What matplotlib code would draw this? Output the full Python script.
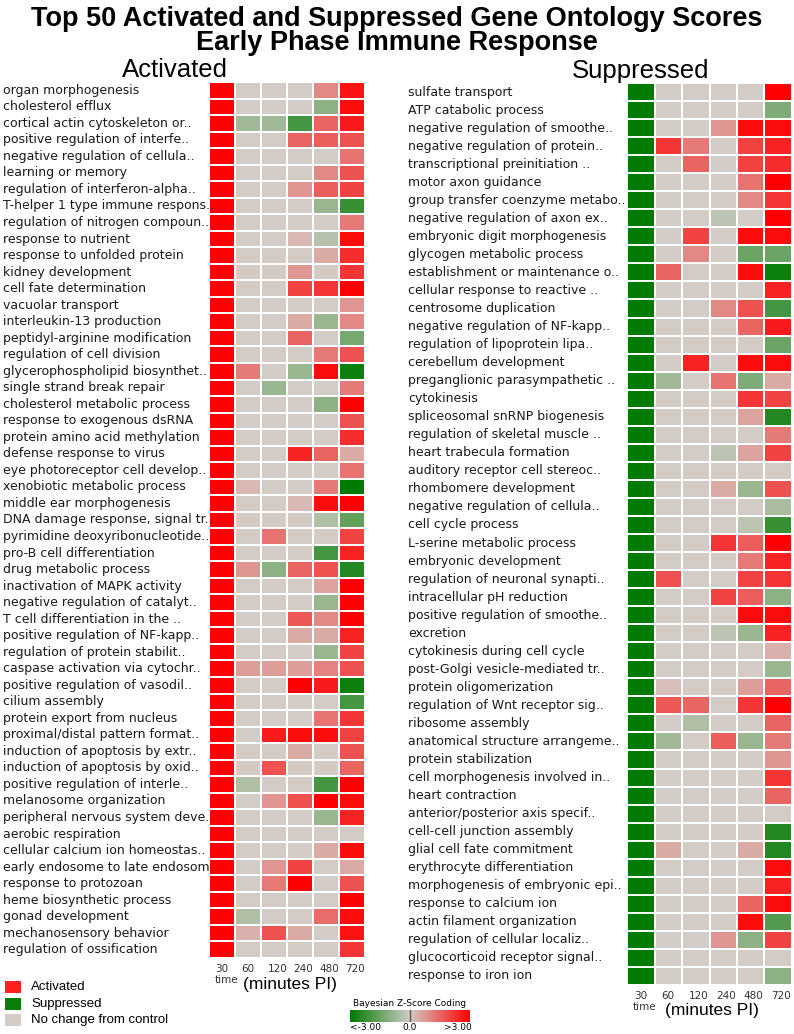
import numpy as np
import matplotlib
matplotlib.use("Agg")
import matplotlib.pyplot as plt
from matplotlib.colors import LinearSegmentedColormap
from matplotlib.patches import Rectangle
import matplotlib.transforms as mtransforms

times = ["30", "60", "120", "240", "480", "720"]

act_terms = [
    "organ morphogenesis", "cholesterol efflux", "cortical actin cytoskeleton or..",
    "positive regulation of interfe..", "negative regulation of cellula..", "learning or memory",
    "regulation of interferon-alpha..", "T-helper 1 type immune respons..",
    "regulation of nitrogen compoun..", "response to nutrient", "response to unfolded protein",
    "kidney development", "cell fate determination", "vacuolar transport",
    "interleukin-13 production", "peptidyl-arginine modification", "regulation of cell division",
    "glycerophospholipid biosynthet..", "single strand break repair",
    "cholesterol metabolic process", "response to exogenous dsRNA",
    "protein amino acid methylation", "defense response to virus",
    "eye photoreceptor cell develop..", "xenobiotic metabolic process",
    "middle ear morphogenesis", "DNA damage response, signal tr..",
    "pyrimidine deoxyribonucleotide..", "pro-B cell differentiation", "drug metabolic process",
    "inactivation of MAPK activity", "negative regulation of catalyt..",
    "T cell differentiation in the ..", "positive regulation of NF-kapp..",
    "regulation of protein stabilit..", "caspase activation via cytochr..",
    "positive regulation of vasodil..", "cilium assembly", "protein export from nucleus",
    "proximal/distal pattern format..", "induction of apoptosis by extr..",
    "induction of apoptosis by oxid..", "positive regulation of interle..",
    "melanosome organization", "peripheral nervous system deve..", "aerobic respiration",
    "cellular calcium ion homeostas..", "early endosome to late endosom..",
    "response to protozoan", "heme biosynthetic process", "gonad development",
    "mechanosensory behavior", "regulation of ossification",
]

# z-scores: 30, 60, 120, 240, 480, 720 min
act_30 = [3.0] * 53
act_60 = [0, 0, -0.7, 0, 0, 0, 0, 0, 0, 0, 0, 0, 0, 0, 0, 0, 0, 1.2, 0, 0, 0, 0, 0, 0, 0.3, 0, 0,
          0, 0, 0.8, 0, 0, 0, 0, 0, 0.7, 0, 0, 0, 0, 0, 0, -0.5, 0, 0, 0, 0, 0, 0, 0, -0.5, 0.4, 0]
act_120 = [0, 0, -0.7, 0, 0, 0, 0, 0, 0, 0, 0, 0, 0, 0, 0, 0, 0, 0, -0.8, 0, 0, 0, 0, 0, 0, 0, 0,
           1.3, 0, -1.0, 0, 0, 0, 0, 0, 0.7, 0, 0, 0, 2.6, 0, 1.8, 0, 0.8, 0, 0, 0, 0.8, 1.2, 0, 0, 1.8, 0]
act_240 = [0, 0, -2.0, 1.5, 0, 0, 0.8, 0, 0, 0.3, 0, 0.8, 2.0, 0, 0.5, 1.5, 0, -0.8, 0, 0, 0, 0, 2.5, 0, 0, 0.3, 0,
           0, 0, 1.5, 0, 0, 1.7, 0.5, 0, 0.7, 3.0, 0, 0, 2.8, 0.5, 0, 0, 1.8, 0, 0, 0, 2.0, 3.0, 0, 0, 0.5, 0]
act_480 = [1.0, -1.0, 1.5, 1.6, 0, 1.0, 1.6, -0.8, 0, -0.4, 0.5, 0, 2.2, 0, -0.8, 0, 1.2, 2.8, 0, -1.0, 0, 0, 1.5, 0, 1.2, 2.8, -0.5,
           0, -2.0, 1.8, 0.6, -0.8, 1.0, 0.5, -0.8, 1.1, 2.6, 0, 1.3, 2.8, 0, 0, -2.0, 3.0, -0.8, 0, 0.5, 0, 0, 0, 1.4, 0, 0]
act_720 = [2.7, 2.8, 2.6, 1.8, 1.3, 1.8, 2.0, -2.2, 1.2, 2.8, 2.3, 2.2, 3.0, 0.8, 1.0, -1.3, 1.8, -2.8, 1.2, 3.0, 1.8, 2.3, 0.5, 1.3, -3.0, 3.0, -1.6,
           2.0, 2.5, -2.5, 3.0, 3.0, 3.0, 2.5, 2.0, 1.8, -2.8, -2.0, 2.2, 2.0, 1.8, 1.5, 3.0, 2.8, 2.5, 0, 2.8, 0.5, 1.8, 3.0, 2.8, 2.7, 2.2]

sup_terms = [
    "sulfate transport", "ATP catabolic process", "negative regulation of smoothe..",
    "negative regulation of protein..", "transcriptional preinitiation ..", "motor axon guidance",
    "group transfer coenzyme metabo..", "negative regulation of axon ex..",
    "embryonic digit morphogenesis", "glycogen metabolic process",
    "establishment or maintenance o..", "cellular response to reactive ..",
    "centrosome duplication", "negative regulation of NF-kapp..",
    "regulation of lipoprotein lipa..", "cerebellum development",
    "preganglionic parasympathetic ..", "cytokinesis", "spliceosomal snRNP biogenesis",
    "regulation of skeletal muscle ..", "heart trabecula formation",
    "auditory receptor cell stereoc..", "rhombomere development",
    "negative regulation of cellula..", "cell cycle process", "L-serine metabolic process",
    "embryonic development", "regulation of neuronal synapti..", "intracellular pH reduction",
    "positive regulation of smoothe..", "excretion", "cytokinesis during cell cycle",
    "post-Golgi vesicle-mediated tr..", "protein oligomerization",
    "regulation of Wnt receptor sig..", "ribosome assembly",
    "anatomical structure arrangeme..", "protein stabilization",
    "cell morphogenesis involved in..", "heart contraction", "anterior/posterior axis specif..",
    "cell-cell junction assembly", "glial cell fate commitment", "erythrocyte differentiation",
    "morphogenesis of embryonic epi..", "response to calcium ion", "actin filament organization",
    "regulation of cellular localiz..", "glucocorticoid receptor signal..", "response to iron ion",
]

sup_30 = [-3.0] * 50
sup_60 = [0, 0, 0, 2.2, 0, 0, 0, 0, 0, 0, 1.5, 0, 0, 0, 0, 0, -0.7, 0, 0, 0, 0, 0, 0, 0, 0,
          0, 0, 1.8, 0, 0, 0, 0, 0, 0.2, 1.7, 0, -0.7, 0, 0, 0, 0, 0, 0.5, 0, 0, 0, 0, 0, 0, 0]
sup_120 = [0, 0, 0, 1.2, 1.5, 0, 0, 0, 2.0, 1.0, 0, 0, 0, 0, 0, 2.5, 0, 0, 0, 0, 0, 0, 0, 0, 0,
           0, 0, 0, 0, 0, 0, 0, 0, 0, 1.5, -0.5, 0, 0, 0, 0, 0, 0, 0, 0, 0, 0, 0, 0, 0, 0]
sup_240 = [0, 0, 0.8, 0, 0, 0, 0, -0.3, 0, 0, 0, 0, 1.0, 0, 0, 0, 1.3, 0, 0, 0, -0.3, 0, 0.5, 0, 0,
           2.2, 0, 0, 2.0, 0, -0.3, 0, 0, 0, 0, 0, 1.6, 0, 0, 0, 0, 0, 0, 0, 0, 0, 0, 0.8, 0, 0]
sup_480 = [0, 0, 2.8, 2.0, 2.0, 1.3, 1.0, 0, 2.8, -1.5, 2.8, 0, 1.8, 1.5, 0, 2.8, -1.2, 2.2, 0.6, 0, 0.6, 0, -0.8, 0, -0.3,
           1.6, 1.2, 2.0, 1.6, 2.8, -0.8, 0, 0, 0.7, 2.2, 0, -0.8, 0, 0, 0, 0, 0, 0.5, 0, 0, 1.5, 2.8, -1.0, 0, 0]
sup_720 = [3.0, -1.2, 2.8, 2.5, 2.3, 3.0, 2.2, 3.0, 2.8, -1.5, -2.8, 2.5, -2.0, 2.6, -1.5, 2.8, 0.5, 2.0, -2.5, 1.2, 2.0, 0, 1.8, -0.6, -2.2,
           3.0, 2.5, 2.2, -1.0, 2.8, 2.5, 0.4, -0.8, 1.5, 3.0, 1.5, 1.2, 0.8, 2.2, 1.5, 0, -2.5, -2.5, 2.8, 2.5, 2.8, -1.8, 2.0, 0, -1.0]

act = np.column_stack([act_30, act_60, act_120, act_240, act_480, act_720])
sup = np.column_stack([sup_30, sup_60, sup_120, sup_240, sup_480, sup_720])

cmap = LinearSegmentedColormap.from_list("zscore", ["#007a00", "#d3ccc7", "#ff0000"])

W, H = 794, 1034
fig = plt.figure(figsize=(W / 100, H / 100), dpi=100)

def fx(px):
    return px / W

def fy(py):
    return 1 - py / H

fig.text(0.5, fy(6), "Top 50 Activated and Suppressed Gene Ontology Scores\nEarly Phase Immune Response",
         ha="center", va="top", fontsize=19.5, fontweight="bold", family="Liberation Sans", linespacing=0.92)

def panel(data, terms, x0, x1, y0, y1, label_x, heading, heading_x):
    ax = fig.add_axes([fx(x0), fy(y1), fx(x1 - x0), (y1 - y0) / H])
    n = data.shape[0]
    ax.pcolormesh(np.arange(7), np.arange(n + 1), data, cmap=cmap, vmin=-3, vmax=3,
                  edgecolors="white", linewidth=1.3)
    ax.set_xlim(0, 6)
    ax.set_ylim(n, 0)
    ax.set_axis_off()
    tr = mtransforms.blended_transform_factory(fig.transFigure, ax.transData)
    for i, t in enumerate(terms):
        ax.text(fx(label_x), i + 0.5, t, transform=tr, ha="left", va="center",
                fontsize=9.0, family="DejaVu Sans", color="#1a1a1a")
    fig.text(fx(heading_x), fy(y0 - 12), heading, ha="center", va="center",
             fontsize=18.5, family="Liberation Sans")
    # time labels
    trx = mtransforms.blended_transform_factory(ax.transData, fig.transFigure)
    for j, t in enumerate(times):
        ax.text(j + 0.25, fy(y1 + 11), t, transform=trx, ha="left", va="center",
                fontsize=7.5, family="DejaVu Sans", color="#333333")
    ax.text(0.2, fy(y1 + 22), "time", transform=trx, ha="left", va="center",
            fontsize=7.5, family="DejaVu Sans", color="#333333")
    ax.text(3.1, fy(y1 + 26), "(minutes PI)", transform=trx, ha="center", va="center",
            fontsize=12.5, family="Liberation Sans")
    return ax

panel(act, act_terms, 209, 365, 82, 958, 3, "Activated", 175)
panel(sup, sup_terms, 627, 792, 83, 985, 408, "Suppressed", 641)

# legend
leg = [("Activated", "#ff2020"), ("Suppressed", "#0a7d0a"), ("No change from control", "#d3ccc7")]
for k, (name, col) in enumerate(leg):
    yc = 987 + k * 16.5
    fig.patches.append(Rectangle((fx(5), fy(yc + 6)), fx(16), 12 / H, transform=fig.transFigure,
                                 facecolor=col, edgecolor="none"))
    fig.text(fx(31), fy(yc), name, ha="left", va="center", fontsize=9.5, family="Liberation Sans")

# colour key
cax = fig.add_axes([fx(350), fy(1022), fx(120), 12 / H])
cax.imshow(np.linspace(-3, 3, 256)[None, :], aspect="auto", cmap=cmap, vmin=-3, vmax=3,
           extent=[-3, 3, 0, 1])
cax.axvline(0, color="#555555", lw=1)
cax.set_axis_off()
fig.text(fx(410), fy(1004), "Bayesian Z-Score Coding", ha="center", va="center",
         fontsize=6.5, family="DejaVu Sans")
fig.text(fx(350), fy(1028), "<-3.00", ha="left", va="center", fontsize=6.5, family="DejaVu Sans")
fig.text(fx(410), fy(1028), "0.0", ha="center", va="center", fontsize=6.5, family="DejaVu Sans")
fig.text(fx(472), fy(1028), ">3.00", ha="right", va="center", fontsize=6.5, family="DejaVu Sans")

fig.savefig("out.png", dpi=100)
